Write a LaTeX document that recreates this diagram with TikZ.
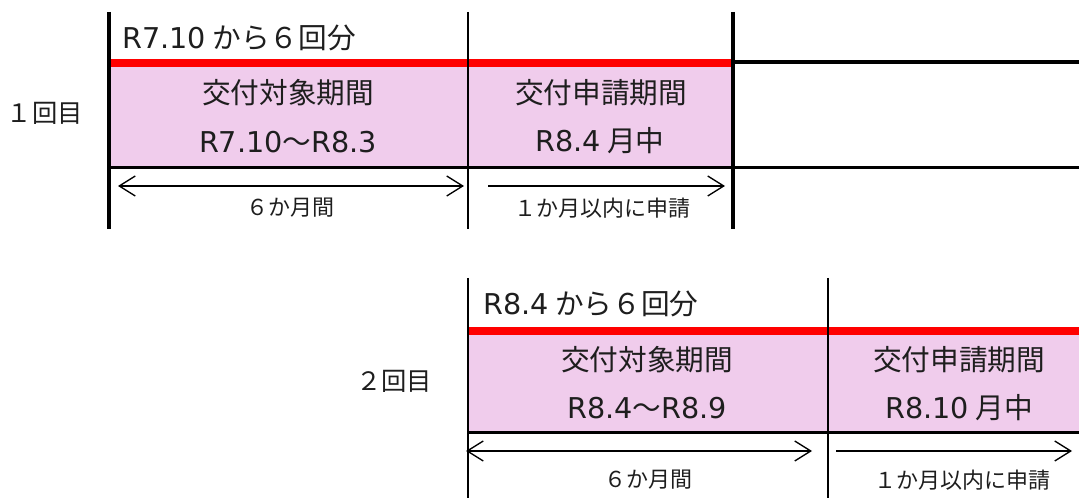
\documentclass[tikz,border=0pt]{standalone}
\usepackage{fontspec}
\setmainfont{Noto Sans CJK JP}
\newfontfamily\lat{DejaVu Sans}
\usetikzlibrary{arrows.meta}
\definecolor{pinkfill}{RGB}{240,204,236}
\definecolor{redline}{RGB}{255,0,0}
\definecolor{txt}{RGB}{30,30,30}
\tikzset{
  big/.style={font=\fontsize{21.5}{23}\selectfont, text=txt, inner sep=0pt},
  small/.style={font=\fontsize{16.5}{18}\selectfont, text=txt, inner sep=0pt},
  rowlbl/.style={font=\fontsize{19}{21}\selectfont, text=txt, inner sep=0pt},
  thickv/.style={line width=2.3pt, black},
  thinv/.style={line width=0.8pt, black},
  redbar/.style={line width=6pt, redline},
  blackbar/.style={line width=2.5pt, black},
  span/.style={line width=1pt, black},
  tipA/.style={-{Straight Barb[length=12pt,width=15pt,line width=1pt]}},
  tipAA/.style={{Straight Barb[length=12pt,width=15pt,line width=1pt]}-{Straight Barb[length=12pt,width=15pt,line width=1pt]}}
}
\begin{document}
\begin{tikzpicture}[x=0.75pt,y=-0.75pt]
\useasboundingbox (0,0) rectangle (1079,498);
% ---------- block 1 ----------
\fill[pinkfill] (109,66) rectangle (733,167);
\draw[redbar] (109,63.5) -- (733,63.5);
\draw[blackbar] (733,62) -- (1079,62);
\draw[blackbar] (109,167.5) -- (1079,167.5);
\draw[thickv] (109,12) -- (109,229);
\draw[thinv] (468,12) -- (468,229);
\draw[thickv] (733,12) -- (733,229);
\node[big, anchor=west] (h1) at (122,38) {{\lat R7.10} から６回分};
\node[rowlbl] (r1) at (45,113) {１回目};
\node[big] (a1) at (288,93) {交付対象期間};
\node[big] (b1) at (288,142) {{\lat R7.10}～{\lat R8.3}};
\node[big] (c1) at (601,93) {交付申請期間};
\node[big] (d1) at (600,141) {{\lat R8.4} 月中};
\coordinate (p1l) at (118,186);
\coordinate (p1r) at (464,186);
\coordinate (q1l) at (488,186);
\coordinate (q1r) at (725,186);
\draw[span, tipAA] (p1l) -- (p1r);
\draw[span, tipA] (q1l) -- (q1r);
\node[small] (m1) at (290,208) {６か月間};
\node[small] (n1) at (602,208) {１か月以内に申請};
% ---------- block 2 ----------
\fill[pinkfill] (468,335) rectangle (1079,432);
\draw[redbar] (468,331) -- (1079,331);
\draw[blackbar] (468,432.5) -- (1079,432.5);
\draw[thinv] (468,278) -- (468,498);
\draw[thinv] (828,278) -- (828,498);
\node[big, anchor=west] (h2) at (483,304) {{\lat R8.4} から６回分};
\node[rowlbl] (r2) at (394,381) {２回目};
\node[big] (a2) at (647,360) {交付対象期間};
\node[big] (b2) at (647,408) {{\lat R8.4}～{\lat R8.9}};
\node[big] (c2) at (959,360) {交付申請期間};
\node[big] (d2) at (959,408) {{\lat R8.10} 月中};
\coordinate (p2l) at (466,451);
\coordinate (p2r) at (812,451);
\coordinate (q2l) at (836,451);
\coordinate (q2r) at (1072,451);
\draw[span, tipAA] (p2l) -- (p2r);
\draw[span, tipA] (q2l) -- (q2r);
\node[small] (m2) at (648,480) {６か月間};
\node[small] (n2) at (962,480) {１か月以内に申請};
\end{tikzpicture}
\end{document}
